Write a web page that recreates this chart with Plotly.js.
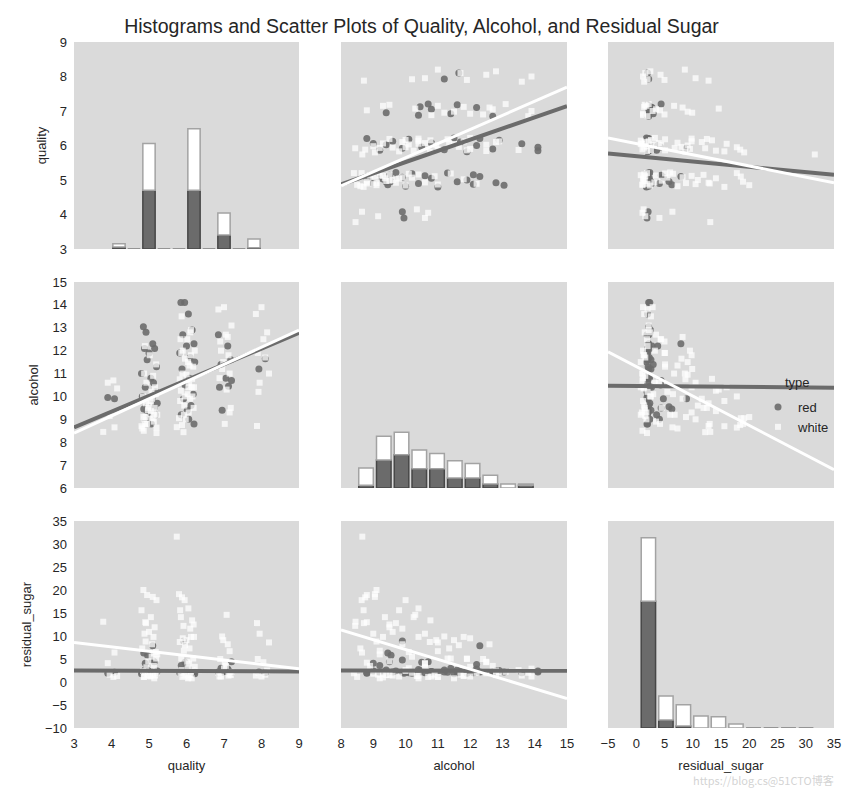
<!DOCTYPE html>
<html>
<head>
<meta charset="utf-8">
<script src="https://cdn.plot.ly/plotly-3.0.1.min.js"></script>
<style>html,body{margin:0;padding:0;background:#fff;}#chart{width:843px;height:790px;}</style>
</head>
<body>
<div id="chart"></div>
<script>
// ---------------- data ----------------
const variables = ['quality', 'alcohol', 'residual_sugar'];

// red wines (quality with jitter as drawn)
const redQuality = [3.9, 4.08,
  4.85, 4.92, 5.10, 4.88, 5.15, 5.00, 4.95, 5.20, 4.80, 5.05, 5.12, 4.90, 5.18, 4.82, 5.08, 5.22, 4.96, 5.14, 4.86, 5.03, 5.17, 4.90, 5.06, 4.94,
  5.85, 5.95, 6.05, 6.15, 5.90, 6.20, 6.00, 5.82, 6.10, 6.22, 5.88, 6.08, 5.96, 6.18, 5.92, 6.12, 6.02, 5.86, 6.06, 6.20,
  6.85, 7.10, 7.18, 6.92, 7.05, 7.20, 6.88, 7.12, 6.95,
  7.93, 8.10];
const redAlcohol = [9.95, 9.9,
  13.05, 12.8, 12.3, 12.1, 12.1, 11.9, 11.6, 11.3, 11.0, 10.8, 10.6, 10.4, 10.2, 10.0, 9.9, 9.7, 9.55, 9.5, 9.45, 9.3, 9.2, 9.0, 8.8, 9.4,
  14.1, 14.1, 13.6, 12.9, 12.7, 12.3, 12.2, 11.9, 11.7, 11.5, 11.2, 10.8, 10.5, 10.1, 9.9, 9.6, 9.4, 9.2, 9.0, 8.8,
  12.7, 12.2, 11.6, 11.4, 10.8, 10.7, 10.4, 10.45, 9.4,
  11.2, 11.65];
const redSugar = [1.9, 2.1,
  2.2, 2.5, 7.9, 2.4, 2.0, 1.9, 2.6, 2.1, 1.8, 2.3, 2.0, 2.7, 1.9, 2.2, 4.8, 2.4, 5.8, 4.4, 6.3, 2.1, 2.0, 4.1, 1.9, 2.6,
  2.2, 2.4, 2.0, 2.5, 1.9, 2.2, 3.8, 2.0, 2.3, 1.8, 2.6, 2.1, 4.3, 2.0, 8.9, 2.2, 1.9, 3.6, 2.4, 2.0,
  2.2, 2.8, 2.0, 3.0, 2.3, 4.4, 1.9, 2.5, 2.1,
  2.2, 2.0];

// white wines
const whiteQuality = [3.78, 4.08, 4.15, 3.90, 4.05, 3.95,
  4.85, 5.10, 4.95, 5.20, 4.80, 5.05, 4.90, 5.15, 4.88, 5.12, 5.00, 4.82, 5.18, 5.08, 4.92, 5.22, 4.86, 5.14, 4.97, 5.04, 4.84, 5.16, 4.93, 5.11, 4.87, 5.19, 5.02, 4.89, 5.13, 4.98, 5.07, 4.91, 5.20,
  5.74, 5.80, 5.88, 5.95, 6.05, 5.85, 6.15, 5.92, 6.10, 6.20, 5.82, 6.00, 6.12, 5.90, 6.08, 5.96, 6.18, 5.86, 6.02, 6.22, 5.84, 6.06, 5.94, 6.14, 5.89, 6.04, 6.16, 5.98, 6.10, 5.87, 6.12, 5.93, 6.07, 5.83, 6.19, 6.03,
  7.07, 6.95, 7.10, 7.15, 6.90, 7.05, 7.20, 6.85, 7.00, 7.12, 6.88, 7.18, 6.92, 7.02, 7.15, 6.98,
  7.88, 7.95, 8.20, 7.90, 8.05, 8.15, 7.85, 8.00, 8.10, 7.92];
const whiteAlcohol = [8.45, 8.65, 10.35, 10.6, 10.7, 9.15,
  9.1, 9.05, 8.8, 8.64, 8.7, 9.36, 8.8, 9.5, 9.0, 9.3, 9.6, 8.6, 10.1, 9.9, 9.7, 9.2, 8.5, 9.2, 9.4, 9.8, 10.0, 10.4, 10.6, 10.9, 11.0, 11.4, 11.8, 12.2, 8.9, 9.5, 10.2, 9.1, 8.4,
  8.66, 9.05, 8.75, 10.0, 10.4, 10.25, 10.77, 8.44, 9.9, 10.4, 10.75, 10.95, 11.8, 12.0, 11.35, 11.65, 11.3, 11.9, 12.5, 12.0, 12.5, 9.3, 9.6, 10.4, 11.0, 11.5, 10.0, 9.0, 12.8, 13.5, 12.9, 9.2, 10.6, 9.8, 9.5, 10.1,
  10.3, 11.2, 12.6, 11.0, 12.4, 12.7, 13.1, 13.8, 13.9, 11.8, 10.8, 9.5, 12.0, 8.8, 9.3, 11.5,
  8.71, 10.6, 11.0, 11.9, 12.5, 12.8, 13.6, 13.9, 11.7, 10.2];
const whiteSugar = [13.1, 6.4, 1.3, 4.1, 1.1, 1.6,
  20.0, 18.5, 18.9, 17.8, 15.6, 14.1, 13.0, 11.9, 10.5, 9.8, 10.9, 7.3, 6.5, 8.2, 12.8, 6.0, 1.1, 0.8, 1.5, 1.2, 2.4, 1.4, 3.2, 1.6, 1.1, 5.1, 1.3, 2.0, 3.5, 4.5, 5.5, 8.8, 1.9,
  31.6, 19.1, 18.4, 17.8, 16.0, 14.1, 13.4, 12.2, 11.6, 9.8, 8.7, 9.1, 9.8, 9.5, 7.3, 8.0, 5.1, 5.1, 4.4, 3.3, 1.9, 1.0, 1.4, 0.8, 1.1, 0.8, 2.6, 1.8, 1.5, 2.6, 2.2, 6.8, 4.0, 15.6, 12.5, 3.0,
  14.6, 9.9, 8.2, 6.7, 5.0, 3.5, 2.2, 2.0, 2.9, 1.4, 1.2, 1.5, 1.2, 4.2, 1.8, 9.1,
  12.8, 10.5, 8.6, 5.0, 4.3, 2.5, 1.4, 1.2, 1.6, 2.0];

// diagonal histograms (bin centres and stacked counts)
const qualityBins = [4.2, 4.6, 5.0, 5.4, 5.8, 6.2, 6.6, 7.0, 7.4, 7.8];
const qualityRedCounts = [3, 0, 88, 0, 0, 88, 0, 21, 0, 2];
const qualityWhiteCounts = [5, 0, 70, 0, 0, 92, 0, 33, 0, 13];
const alcoholBins = [8.775, 9.325, 9.875, 10.425, 10.975, 11.525, 12.075, 12.625, 13.175, 13.725];
const alcoholRedCounts = [4, 42, 50, 29, 29, 15, 15, 6, 0, 4];
const alcoholWhiteCounts = [26, 36, 34, 28, 23, 26, 22, 13, 6, 2];
const sugarBins = [2.15, 5.25, 8.35, 11.45, 14.55, 17.65, 20.75, 23.85, 26.95, 30.05];
const sugarRedCounts = [190, 12, 3, 0, 0, 0, 0, 0, 0, 0];
const sugarWhiteCounts = [95, 36, 32, 18, 17, 6, 0, 0, 0, 0];
const binWidths = [0.4, 0.55, 3.1];
const countAxisMax = 310;   // shared count scale of the diagonal histograms

// regression lines: values at the left and right end of each panel (rowVar vs colVar)
const fitRedQualityAlcohol = [4.87, 7.14];
const fitWhiteQualityAlcohol = [4.83, 7.69];
const fitRedQualitySugar = [5.77, 5.15];
const fitWhiteQualitySugar = [6.22, 4.92];
const fitRedAlcoholQuality = [8.65, 12.78];
const fitWhiteAlcoholQuality = [8.4, 12.9];
const fitRedAlcoholSugar = [10.47, 10.38];
const fitWhiteAlcoholSugar = [11.95, 6.8];
const fitRedSugarQuality = [2.5, 2.3];
const fitWhiteSugarQuality = [8.6, 2.9];
const fitRedSugarAlcohol = [2.5, 2.45];
const fitWhiteSugarAlcohol = [11.3, -3.6];

// axis ticks
const xRanges = [[3, 9], [8, 15], [-5, 35]];
const yRanges = [[3, 9], [6, 15], [-10, 35]];
const tickSteps = [1, 1, 5];

// ---------------- build ----------------
const RED = '#6b6b6b';
const FONT = 'Liberation Sans, Arial, sans-serif';
const TXT = '#262626';

const redData = [redQuality, redAlcohol, redSugar];
const whiteData = [whiteQuality, whiteAlcohol, whiteSugar];
const hist = [
  [qualityBins, qualityRedCounts, qualityWhiteCounts],
  [alcoholBins, alcoholRedCounts, alcoholWhiteCounts],
  [sugarBins, sugarRedCounts, sugarWhiteCounts]
];
const fits = {
  '0-1': [fitRedQualityAlcohol, fitWhiteQualityAlcohol],
  '0-2': [fitRedQualitySugar, fitWhiteQualitySugar],
  '1-0': [fitRedAlcoholQuality, fitWhiteAlcoholQuality],
  '1-2': [fitRedAlcoholSugar, fitWhiteAlcoholSugar],
  '2-0': [fitRedSugarQuality, fitWhiteSugarQuality],
  '2-1': [fitRedSugarAlcohol, fitWhiteSugarAlcohol]
};

const W = 843, H = 790;
const colPx = [[74, 299], [341, 567], [608, 834]];
const rowPx = [[42, 249], [282, 488], [521, 728]];

const layout = {
  width: W, height: H,
  margin: {l: 0, r: 0, t: 0, b: 0},
  paper_bgcolor: '#ffffff',
  plot_bgcolor: '#dadada',
  barmode: 'overlay',
  font: {family: FONT, size: 13, color: TXT},
  title: {text: 'Histograms and Scatter Plots of Quality, Alcohol, and Residual Sugar',
          x: 0.5, xanchor: 'center', y: 1 - 26 / H, yanchor: 'middle',
          font: {family: FONT, size: 19.5, color: TXT}},
  showlegend: true,
  legend: {x: 758 / W, xanchor: 'left', y: 1 - 392 / H, yanchor: 'top',
           bgcolor: 'rgba(0,0,0,0)', borderwidth: 0, font: {family: FONT, size: 13, color: TXT},
           tracegroupgap: 0},
  annotations: [
    {text: 'type', x: 783 / W, y: 1 - 383 / H, xref: 'paper', yref: 'paper', xanchor: 'left', yanchor: 'middle',
     showarrow: false, font: {family: FONT, size: 13, color: TXT}},
    {text: 'https://blog.cs@51CTO博客', x: 836 / W, y: 1 - 780 / H, xref: 'paper', yref: 'paper', xanchor: 'right', yanchor: 'middle',
     showarrow: false, font: {family: 'Noto Sans CJK SC, ' + FONT, size: 11, color: 'rgba(200,200,200,0.8)'}}
  ]
};

const traces = [];

for (let r = 0; r < 3; r++) {
  for (let c = 0; c < 3; c++) {
    const k = r * 3 + c + 1;
    const xn = k === 1 ? 'xaxis' : 'xaxis' + k;
    const yn = k === 1 ? 'yaxis' : 'yaxis' + k;
    const xid = k === 1 ? 'x' : 'x' + k;
    const yid = k === 1 ? 'y' : 'y' + k;
    layout[xn] = {
      domain: [colPx[c][0] / W, colPx[c][1] / W], anchor: yid,
      range: xRanges[c], dtick: tickSteps[c], tick0: 0,
      showgrid: false, zeroline: false, showline: false, ticks: '',
      showticklabels: r === 2, ticklabelstandoff: 6,
      tickfont: {family: FONT, size: 13, color: TXT},
      title: r === 2 ? {text: variables[c], font: {family: FONT, size: 13, color: TXT}, standoff: 10} : {text: ''}
    };
    layout[yn] = {
      domain: [1 - rowPx[r][1] / H, 1 - rowPx[r][0] / H], anchor: xid,
      range: yRanges[r], dtick: tickSteps[r], tick0: 0,
      showgrid: false, zeroline: false, showline: false, ticks: '',
      showticklabels: c === 0, ticklabelstandoff: 6,
      tickfont: {family: FONT, size: 13, color: TXT},
      title: c === 0 ? {text: variables[r], font: {family: FONT, size: 13, color: TXT}, standoff: 10} : {text: ''}
    };
    if (r === c) {
      // histogram counts drawn on the panel's own axis: count scale mapped onto the row's range
      const h = hist[r];
      const y0 = yRanges[r][0];
      const unit = (yRanges[r][1] - yRanges[r][0]) / countAxisMax;
      const redH = h[1].map(v => v * unit);
      const whiteH = h[2].map(v => v * unit);
      const redBase = h[1].map(() => y0);
      const whiteBase = redH.map(v => y0 + v);
      const w = binWidths[r] * 0.82;
      traces.push({type: 'bar', x: h[0], y: redH, base: redBase, width: w, xaxis: xid, yaxis: yid,
                   marker: {color: RED, line: {color: '#474747', width: 1.5}}, showlegend: false, hoverinfo: 'skip'});
      traces.push({type: 'bar', x: h[0], y: whiteH, base: whiteBase, width: w, xaxis: xid, yaxis: yid,
                   marker: {color: '#ffffff', line: {color: '#a3a3a3', width: 1.5}}, showlegend: false, hoverinfo: 'skip'});
    } else {
      const legendPanel = (r === 0 && c === 1);
      traces.push({type: 'scatter', mode: 'markers', name: 'red', legendgroup: 'red', showlegend: legendPanel,
                   x: redData[c], y: redData[r], xaxis: xid, yaxis: yid,
                   marker: {symbol: 'circle', size: 7, color: RED, opacity: 0.9, line: {width: 0}}, hoverinfo: 'skip'});
      traces.push({type: 'scatter', mode: 'markers', name: 'white', legendgroup: 'white', showlegend: legendPanel,
                   x: whiteData[c], y: whiteData[r], xaxis: xid, yaxis: yid,
                   marker: {symbol: 'square', size: 6, color: '#ffffff', opacity: 0.72, line: {width: 0}}, hoverinfo: 'skip'});
    }
  }
}
// regression lines drawn above the points
for (let r = 0; r < 3; r++) {
  for (let c = 0; c < 3; c++) {
    if (r === c) continue;
    const k = r * 3 + c + 1;
    const xid = k === 1 ? 'x' : 'x' + k;
    const yid = k === 1 ? 'y' : 'y' + k;
    const f = fits[r + '-' + c];
    traces.push({type: 'scatter', mode: 'lines', x: xRanges[c], y: f[0], xaxis: xid, yaxis: yid,
                 line: {color: RED, width: 4}, showlegend: false, hoverinfo: 'skip'});
    traces.push({type: 'scatter', mode: 'lines', x: xRanges[c], y: f[1], xaxis: xid, yaxis: yid,
                 line: {color: '#ffffff', width: 3}, showlegend: false, hoverinfo: 'skip'});
  }
}

Plotly.newPlot('chart', traces, layout, {staticPlot: true, displayModeBar: false});
</script>
</body>
</html>
